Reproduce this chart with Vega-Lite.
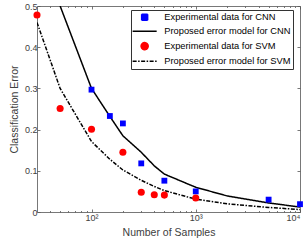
{
  "$schema": "https://vega.github.io/schema/vega-lite/v6.json",
  "width": 263,
  "height": 206,
  "autosize": "none",
  "padding": {"left": 37, "top": 6, "right": 7, "bottom": 33},
  "config": {
    "font": "Liberation Sans",
    "view": {"stroke": null},
    "axis": {
      "domainColor": "#555555",
      "tickColor": "#555555",
      "labelColor": "#404040",
      "titleColor": "#404040",
      "labelFont": "Liberation Sans",
      "titleFont": "Liberation Sans",
      "labelFontSize": 9,
      "titleFontSize": 10.5,
      "titleFontWeight": "normal",
      "grid": false,
      "domainWidth": 0.8,
      "tickWidth": 0.8
    }
  },
  "datasets": {
    "exp": [
      {"series": "Experimental data for CNN", "n": 100, "err": 0.297},
      {"series": "Experimental data for CNN", "n": 150, "err": 0.233},
      {"series": "Experimental data for CNN", "n": 200, "err": 0.215},
      {"series": "Experimental data for CNN", "n": 300, "err": 0.118},
      {"series": "Experimental data for CNN", "n": 500, "err": 0.076},
      {"series": "Experimental data for CNN", "n": 1000, "err": 0.050},
      {"series": "Experimental data for CNN", "n": 5000, "err": 0.030},
      {"series": "Experimental data for CNN", "n": 10000, "err": 0.019},
      {"series": "Experimental data for SVM", "n": 30, "err": 0.478},
      {"series": "Experimental data for SVM", "n": 50, "err": 0.251},
      {"series": "Experimental data for SVM", "n": 100, "err": 0.201},
      {"series": "Experimental data for SVM", "n": 200, "err": 0.145},
      {"series": "Experimental data for SVM", "n": 300, "err": 0.048},
      {"series": "Experimental data for SVM", "n": 400, "err": 0.042},
      {"series": "Experimental data for SVM", "n": 500, "err": 0.041},
      {"series": "Experimental data for SVM", "n": 1000, "err": 0.034}
    ],
    "model": [
      {"series": "Proposed error model for CNN", "n": 50, "err": 0.50},
      {"series": "Proposed error model for CNN", "n": 100, "err": 0.30},
      {"series": "Proposed error model for CNN", "n": 150, "err": 0.232},
      {"series": "Proposed error model for CNN", "n": 200, "err": 0.185},
      {"series": "Proposed error model for CNN", "n": 300, "err": 0.145},
      {"series": "Proposed error model for CNN", "n": 400, "err": 0.112},
      {"series": "Proposed error model for CNN", "n": 500, "err": 0.092},
      {"series": "Proposed error model for CNN", "n": 1000, "err": 0.060},
      {"series": "Proposed error model for CNN", "n": 2000, "err": 0.039},
      {"series": "Proposed error model for CNN", "n": 5000, "err": 0.022},
      {"series": "Proposed error model for CNN", "n": 10000, "err": 0.012},
      {"series": "Proposed error model for SVM", "n": 30, "err": 0.46},
      {"series": "Proposed error model for SVM", "n": 50, "err": 0.30},
      {"series": "Proposed error model for SVM", "n": 100, "err": 0.171},
      {"series": "Proposed error model for SVM", "n": 150, "err": 0.128},
      {"series": "Proposed error model for SVM", "n": 200, "err": 0.102},
      {"series": "Proposed error model for SVM", "n": 300, "err": 0.077},
      {"series": "Proposed error model for SVM", "n": 400, "err": 0.062},
      {"series": "Proposed error model for SVM", "n": 500, "err": 0.052},
      {"series": "Proposed error model for SVM", "n": 1000, "err": 0.031},
      {"series": "Proposed error model for SVM", "n": 2000, "err": 0.020},
      {"series": "Proposed error model for SVM", "n": 5000, "err": 0.011},
      {"series": "Proposed error model for SVM", "n": 10000, "err": 0.006}
    ]
  },
  "resolve": {"axis": {"x": "independent", "y": "independent"}},
  "layer": [
    {
      "data": {"name": "model"},
      "mark": {"type": "line", "strokeWidth": 1.5, "clip": true},
      "encoding": {
        "x": {
          "field": "n", "type": "quantitative",
          "scale": {"type": "log", "domain": [30, 10000], "nice": false},
          "axis": {
            "orient": "bottom", "values": [100, 1000, 10000],
            "labelExpr": "datum.value === 100 ? '10²' : datum.value === 1000 ? '10³' : '10⁴'",
            "title": "Number of Samples", "tickSize": -3, "labelPadding": 4, "titlePadding": 5
          }
        },
        "y": {
          "field": "err", "type": "quantitative",
          "scale": {"domain": [0, 0.5], "nice": false},
          "axis": {
            "orient": "left", "values": [0, 0.1, 0.2, 0.3, 0.4, 0.5],
            "labelExpr": "datum.value === 0 ? '0' : format(datum.value, '.1f')",
            "title": "Classification Error", "tickSize": -3, "labelPadding": 3, "titlePadding": 5
          }
        },
        "color": {
          "field": "series", "type": "nominal",
          "scale": {
            "domain": ["Experimental data for CNN", "Proposed error model for CNN", "Experimental data for SVM", "Proposed error model for SVM"],
            "range": ["#0000ff", "#000000", "#ff0000", "#000000"]
          },
          "legend": {
            "orient": "none", "legendX": 94, "legendY": 4, "title": null,
            "strokeColor": "#333333", "fillColor": "#ffffff", "padding": 2.5,
            "labelFont": "Liberation Sans", "labelFontSize": 9.3, "labelColor": "#000000",
            "symbolSize": 50, "symbolOffset": 6.5, "labelOffset": 15, "rowPadding": 3,
            "symbolStrokeWidth": 1.5,
            "encode": {
              "symbols": {
                "update": {
                  "shape": {"signal": "datum.value === 'Experimental data for CNN' ? 'square' : datum.value === 'Experimental data for SVM' ? 'circle' : 'M-3.4,0H3.4'"},
                  "size": {"signal": "datum.value === 'Experimental data for CNN' ? 36 : datum.value === 'Experimental data for SVM' ? 50 : 50"},
                  "fill": {"signal": "datum.value === 'Experimental data for CNN' ? '#0000ff' : datum.value === 'Experimental data for SVM' ? '#ff0000' : 'transparent'"},
                  "stroke": {"signal": "indexof(datum.value, 'Proposed') === 0 ? '#000000' : 'transparent'"},
                  "strokeDash": {"signal": "datum.value === 'Proposed error model for SVM' ? [4, 1.5, 1.5, 1.5] : [1, 0]"},
                  "strokeWidth": {"value": 1.5},
                  "opacity": {"value": 1}
                }
              }
            }
          }
        },
        "strokeDash": {
          "field": "series", "type": "nominal",
          "scale": {"domain": ["Proposed error model for CNN", "Proposed error model for SVM"], "range": [[1, 0], [4, 1.5, 1.5, 1.5]]},
          "legend": null
        }
      }
    },
    {
      "data": {"name": "exp"},
      "mark": {"type": "point", "filled": true, "opacity": 1},
      "encoding": {
        "x": {
          "field": "n", "type": "quantitative",
          "scale": {"type": "log", "domain": [30, 10000], "nice": false},
          "axis": {
            "orient": "bottom", "values": [40, 50, 60, 70, 80, 90, 200, 300, 400, 500, 600, 700, 800, 900, 2000, 3000, 4000, 5000, 6000, 7000, 8000, 9000],
            "labels": false, "domain": false, "title": null, "tickSize": -1.5
          }
        },
        "y": {
          "field": "err", "type": "quantitative",
          "scale": {"domain": [0, 0.5], "nice": false},
          "axis": {
            "orient": "right", "values": [0, 0.1, 0.2, 0.3, 0.4, 0.5],
            "labels": false, "title": null, "tickSize": -3
          }
        },
        "color": {
          "field": "series", "type": "nominal",
          "scale": {
            "domain": ["Experimental data for CNN", "Proposed error model for CNN", "Experimental data for SVM", "Proposed error model for SVM"],
            "range": ["#0000ff", "#000000", "#ff0000", "#000000"]
          }
        },
        "shape": {
          "field": "series", "type": "nominal",
          "scale": {"domain": ["Experimental data for CNN", "Experimental data for SVM"], "range": ["square", "circle"]},
          "legend": null
        },
        "size": {
          "field": "series", "type": "nominal",
          "scale": {"domain": ["Experimental data for CNN", "Experimental data for SVM"], "range": [34, 50]},
          "legend": null
        }
      }
    },
    {
      "data": {"name": "model"},
      "mark": {"type": "point", "opacity": 0},
      "encoding": {
        "x": {
          "field": "n", "type": "quantitative",
          "scale": {"type": "log", "domain": [30, 10000], "nice": false},
          "axis": {"orient": "top", "values": [100, 1000, 10000], "labels": false, "title": null, "tickSize": -3}
        },
        "y": {
          "field": "err", "type": "quantitative",
          "scale": {"domain": [0, 0.5], "nice": false},
          "axis": null
        }
      }
    },
    {
      "data": {"name": "model"},
      "mark": {"type": "point", "opacity": 0},
      "encoding": {
        "x": {
          "field": "n", "type": "quantitative",
          "scale": {"type": "log", "domain": [30, 10000], "nice": false},
          "axis": {
            "orient": "top", "values": [40, 50, 60, 70, 80, 90, 200, 300, 400, 500, 600, 700, 800, 900, 2000, 3000, 4000, 5000, 6000, 7000, 8000, 9000],
            "labels": false, "domain": false, "title": null, "tickSize": -1.5
          }
        },
        "y": {
          "field": "err", "type": "quantitative",
          "scale": {"domain": [0, 0.5], "nice": false},
          "axis": null
        }
      }
    }
  ]
}
